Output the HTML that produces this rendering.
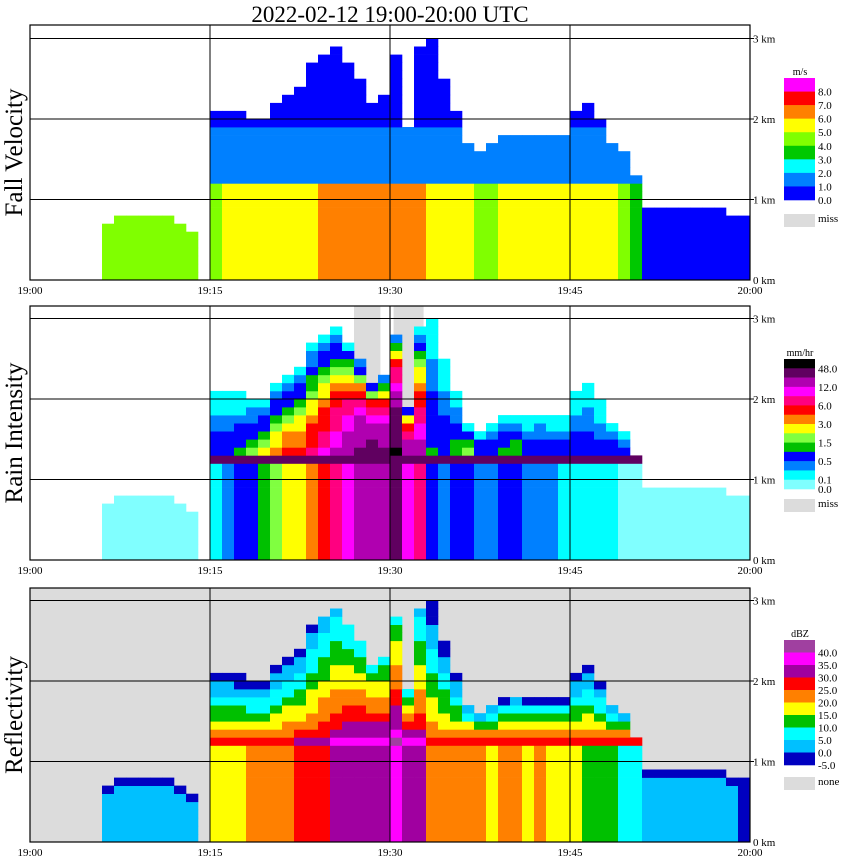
<!DOCTYPE html>
<html><head><meta charset="utf-8"><style>
body{margin:0;background:#fff;}
svg{display:block;font-family:"Liberation Serif",serif;}
</style></head><body>
<svg id="chart" width="850" height="868" viewBox="0 0 850 868" xmlns="http://www.w3.org/2000/svg">
<text x="390" y="22" font-size="23" text-anchor="middle">2022-02-12   19:00-20:00 UTC</text>
</svg>
<script>
// ===== data (per minute 19:00 .. 19:59) =====
const minutes = Array.from({length:60},(_,i)=>i);
const echoTopKm = [0,0,0,0,0,0,0.7,0.75,0.8,0.75,0.8,0.75,0.7,0.6,0,2.1,2.1,2.05,2.0,2.0,2.2,2.3,2.4,2.7,2.8,2.9,2.7,2.5,2.2,2.3,2.8,1.9,2.9,3.0,2.5,2.1,1.7,1.6,1.7,1.8,1.8,1.8,1.8,1.8,1.8,2.1,2.2,2.0,1.7,1.6,1.3,0.9,0.85,0.9,0.9,0.85,0.9,0.85,0.8,0.75];
const rainRate = [0,0,0,0,0,0,0.05,0.05,0.05,0.05,0.05,0.05,0.05,0.05,0,0.2,0.3,0.5,0.8,1.2,1.7,2.5,2.5,3.5,5,7,10,15,20,15,30,10,8,0.5,0.4,0.6,0.8,0.4,0.3,0.6,0.7,0.3,0.4,0.3,0.25,0.2,0.15,0.1,0.1,0.08,0.05,0.05,0.05,0.05,0.05,0.05,0.05,0.05,0.05,0.05];
const fallVel = [0,0,0,0,0,0,4.5,4.5,4.2,4.5,4.5,4.2,4.5,4.2,0,4.5,5,5.2,5.2,5.3,5.5,5.5,5.5,5.5,6.5,6.5,6.5,6.5,6.5,6.5,6.5,6.5,6.5,5.5,5.5,5.5,5.5,4.5,4.5,5.5,5.2,5.2,5.2,5.2,5.2,5.2,5.2,5.2,5.2,4.5,3,0.6,0.6,0.6,0.6,0.6,0.6,0.6,0.6,0.6];
const dbzRain = [0,0,0,0,0,0,2,3,2,3,2,3,2,2,0,17,18,19,20,21,22,24,25,26,28,30,32,33,34,33,36,33,30,22,20,22,24,20,18,22,23,19,20,18,18,16,14,12,10,8,5,0,2,0,2,0,2,0,0,-2];
const timeLabels = ["19:00","19:15","19:30","19:45","20:00"];
const kmLabels = ["0 km","1 km","2 km","3 km"];
const velTicks = ["8.0","7.0","6.0","5.0","4.0","3.0","2.0","1.0","0.0"];
const rainTicks = ["48.0","","12.0","","6.0","","3.0","","1.5","","0.5","","0.1","0.0"];
const dbzTicks = ["40.0","35.0","30.0","25.0","20.0","15.0","10.0","5.0","0.0","-5.0"];
// ===== scales =====
const X0=30,X1=750;
const xOf = m => X0 + m*(X1-X0)/60;
const panels=[{top:25,base:280,name:"fall-velocity"},{top:306,base:560,name:"rain-intensity"},{top:588,base:842,name:"reflectivity"}];
const yOf=(p,km)=>p.base-km*80.5;
const velColors=["#0000ff","#0080ff","#00ffff","#00c800","#80ff00","#ffff00","#ff8000","#ff0000","#ff00ff"];
const velColor=v=>velColors[Math.max(0,Math.min(8,Math.floor(v)))];
const rainBounds=[0.1,0.3,0.5,1,1.5,2,3,4,6,9,12,24,48];
const rainColors=["#80ffff","#00ffff","#0080ff","#0000ff","#00c000","#80ff40","#ffff00","#ff8000","#ff0000","#ff0080","#ff00ff","#b000b0","#600060","#000000"];
const rainColor=r=>{let i=0;while(i<rainBounds.length&&r>=rainBounds[i])i++;return rainColors[i];};
const dbzColors=["#0000c0","#00c0ff","#00ffff","#00c000","#ffff00","#ff8000","#ff0000","#a000a0","#ff00ff","#a040a0"];
const dbzColor=d=>dbzColors[Math.max(0,Math.min(9,Math.floor((d+5)/5)))];
const svg=document.getElementById('chart');
const NS="http://www.w3.org/2000/svg";
function mk(tag,attrs,parent){const e=document.createElementNS(NS,tag);for(const k in attrs)e.setAttribute(k,attrs[k]);(parent||svg).appendChild(e);return e;}
panels.forEach((p,pi)=>{
  const g=mk('g',{});
  
  
  const bg=mk('rect',{x:X0,y:p.top,width:X1-X0,height:p.base-p.top,fill:pi==2?"#dcdcdc":"#fff"},g);
  
  
  if(pi==1){[[27,29.2],[30.3,32.8]].forEach(s=>{const r=mk('rect',{x:xOf(s[0]),y:p.top,width:xOf(s[1])-xOf(s[0]),height:p.base-p.top,fill:"#dcdcdc"},g);
    
    });}
  minutes.forEach(m=>{
    const top=echoTopKm[m]; if(top<=0) return;
    const x=xOf(m), w=xOf(m+1)-x+0.3;
    const shallow = top<=1.0;
    for(let h=0;h<top-0.001;h+=0.1){
      let c;
      if(shallow || h<1.1){
        if(pi==0)c=velColor(fallVel[m]); else if(pi==1)c=rainColor(rainRate[m]);
        else c=dbzColor(dbzRain[m]+(shallow?(h>top-0.15?-4:0):0));
      } else if(h<1.3){
        if(pi==0)c=velColor(h<1.2?2.5:1.5);
        else if(pi==1)c=(h<1.2?rainColor(Math.min(60,Math.max(rainRate[m]*10,3))):"#600060");
        else c=dbzColor(Math.max(dbzRain[m]+5,27));
      } else {
        const f=(h-1.3)/Math.max(0.1,top-1.3);
        if(pi==0)c=velColor(h<1.9?1.5:0.7);
        else if(pi==1){const br=Math.max(rainRate[m]*10,3);c=rainColor(br*0.18*Math.pow(1-f,2)+0.2);}
        else {const bd=Math.max(dbzRain[m]+5,27);c=dbzColor(bd-5-28*f);}
      }
      const r=mk('rect',{x:x.toFixed(1),y:(yOf(p,h+0.1)).toFixed(1),width:w.toFixed(1),height:8.4,fill:c},g);
      
      
    }
  });
  [1,2,3].forEach(k=>{const l=mk('line',{x1:X0,x2:X1+4,y1:yOf(p,k),y2:yOf(p,k),stroke:"#000","stroke-width":1},g);
    
    });
  [15,30,45].forEach(t=>{const l=mk('line',{x1:xOf(t),x2:xOf(t),y1:p.top,y2:p.base,stroke:"#000","stroke-width":1},g);
    
    });
  const fr=mk('rect',{x:X0,y:p.top,width:X1-X0,height:p.base-p.top,fill:"none",stroke:"#000","stroke-width":1.2},g);
  
  
  timeLabels.forEach((t,i)=>{const tx=mk('text',{x:xOf(i*15),y:p.base+14,"font-size":11,"text-anchor":"middle"},g);tx.textContent=t;
    
    });
  kmLabels.forEach((t,i)=>{const tx=mk('text',{x:X1+3,y:yOf(p,i)+4,"font-size":11},g);tx.textContent=t;
    
    });
  const yl=mk('text',{x:0,y:0,"font-size":25,"text-anchor":"middle",transform:`translate(22,${(p.top+p.base)/2}) rotate(-90)`},g);
  yl.textContent=["Fall Velocity","Rain Intensity","Reflectivity"][pi];
  
  
});
function legend(top,bottom,colors,ticks,unit,missY,missLabel,name){
  const g=mk('g',{});
  
  
  const n=colors.length,h=(bottom-top)/n;
  const u=mk('text',{x:800,y:top-3,"font-size":10,"text-anchor":"middle"},g);u.textContent=unit;
  
  
  colors.forEach((c,i)=>{const r=mk('rect',{x:784,y:top+i*h,width:31,height:h+0.3,fill:c},g);
    
    });
  ticks.forEach((t,i)=>{if(!t)return;const tx=mk('text',{x:818,y:top+(i+1)*h+4,"font-size":11},g);tx.textContent=t;
    
    });
  const mr=mk('rect',{x:784,y:missY,width:31,height:13,fill:"#dcdcdc"},g);
  
  
  const mt=mk('text',{x:818,y:missY+8,"font-size":11},g);mt.textContent=missLabel;
  
  
}
legend(78,200,velColors.slice().reverse(),velTicks,"m/s",214,"miss","velocity-legend");
legend(359,489,rainColors.slice().reverse(),rainTicks,"mm/hr",499,"miss","rain-legend");
legend(640,765,dbzColors.slice().reverse(),dbzTicks,"dBZ",777,"none","reflectivity-legend");
</script>
</body></html>
